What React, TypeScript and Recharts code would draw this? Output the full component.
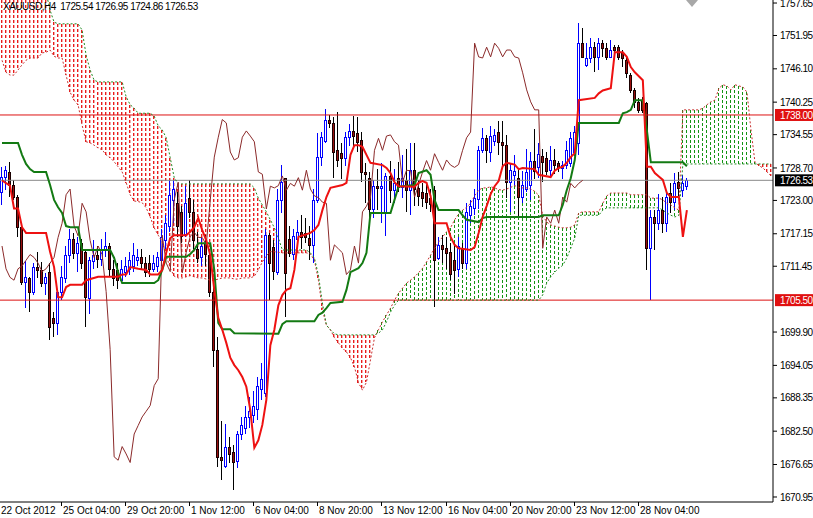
import {
  ComposedChart,
  XAxis,
  YAxis,
  Bar,
  Line,
  ReferenceLine,
} from "recharts";

const FONT = "Tahoma, 'Liberation Sans', Arial, sans-serif";
const TOTAL_BARS = 193; // 172 candles + 21 future slots for the shifted cloud
const PRICE_DOMAIN: [number, number] = [1670.07, 1758.18];

// [open, high, low, close] per H4 bar
const ohlc: [number, number, number, number][] = [
  [1724.5, 1728.9, 1722.2, 1727.1], [1727.1, 1729.0, 1724.8, 1728.3], [1728.0, 1729.7, 1723.6, 1725.7], [1725.7, 1726.6, 1723.1, 1723.6],
  [1723.6, 1724.0, 1716.6, 1718.3], [1718.3, 1718.7, 1708.2, 1708.7], [1708.7, 1712.4, 1704.1, 1709.6], [1709.4, 1709.6, 1703.4, 1706.9],
  [1706.9, 1712.0, 1706.4, 1711.3], [1711.3, 1713.9, 1709.4, 1710.8], [1710.8, 1712.2, 1707.8, 1708.5], [1708.5, 1710.3, 1706.4, 1709.6],
  [1710.4, 1712.0, 1698.5, 1700.8], [1702.4, 1703.5, 1699.0, 1701.5], [1701.5, 1707.3, 1699.4, 1706.9], [1706.9, 1711.5, 1705.5, 1709.5],
  [1709.5, 1715.0, 1708.5, 1713.5], [1713.5, 1718.0, 1712.0, 1716.3], [1716.3, 1717.2, 1712.8, 1713.8], [1713.8, 1716.5, 1710.5, 1715.5],
  [1715.5, 1716.3, 1711.0, 1712.0], [1713.9, 1714.3, 1700.8, 1706.0], [1705.8, 1713.0, 1703.0, 1712.5], [1712.5, 1716.0, 1711.0, 1713.5],
  [1713.5, 1715.0, 1711.2, 1712.8], [1712.8, 1716.3, 1711.5, 1714.5], [1714.5, 1717.5, 1713.0, 1715.0], [1715.0, 1715.5, 1709.5, 1711.0],
  [1711.0, 1712.5, 1708.0, 1709.5], [1710.8, 1712.0, 1707.5, 1709.0], [1709.0, 1712.5, 1708.5, 1711.0], [1710.5, 1713.0, 1709.5, 1711.5],
  [1711.0, 1714.0, 1710.0, 1712.5], [1711.5, 1715.5, 1710.5, 1713.5], [1712.5, 1714.5, 1711.5, 1713.0], [1713.0, 1714.5, 1711.0, 1712.0],
  [1712.0, 1713.0, 1709.5, 1710.5], [1712.0, 1713.5, 1709.5, 1711.0], [1711.0, 1713.5, 1710.5, 1712.0], [1711.5, 1714.0, 1710.5, 1713.0],
  [1712.5, 1718.0, 1711.5, 1716.5], [1716.0, 1720.5, 1714.5, 1719.0], [1718.5, 1726.5, 1717.5, 1724.0], [1723.0, 1726.6, 1719.0, 1725.0],
  [1722.5, 1724.5, 1716.5, 1718.5], [1721.0, 1722.0, 1715.5, 1716.8], [1717.0, 1725.5, 1716.5, 1722.5], [1723.5, 1726.6, 1720.0, 1721.0],
  [1721.0, 1723.0, 1714.5, 1716.0], [1714.5, 1717.5, 1712.0, 1713.0], [1713.0, 1716.5, 1711.5, 1715.0], [1715.5, 1717.0, 1711.5, 1713.5],
  [1713.5, 1714.5, 1706.0, 1707.0], [1707.0, 1708.0, 1693.8, 1696.8], [1696.8, 1699.0, 1676.2, 1678.0], [1678.0, 1684.3, 1674.0, 1677.4],
  [1676.5, 1683.7, 1676.0, 1679.8], [1679.8, 1681.5, 1677.0, 1678.5], [1678.8, 1680.0, 1672.2, 1677.0], [1677.3, 1682.5, 1676.0, 1682.0],
  [1682.0, 1685.0, 1681.0, 1683.5], [1683.0, 1687.0, 1682.0, 1685.0], [1685.0, 1688.5, 1683.0, 1686.0], [1685.5, 1689.5, 1684.0, 1687.0],
  [1686.5, 1692.0, 1684.5, 1690.5], [1690.0, 1694.5, 1688.0, 1691.7], [1689.2, 1718.0, 1688.5, 1716.9], [1716.9, 1717.3, 1705.5, 1712.0],
  [1714.8, 1716.0, 1709.0, 1710.5], [1710.5, 1725.0, 1710.0, 1723.1], [1723.1, 1729.2, 1720.8, 1726.2], [1726.9, 1726.9, 1702.5, 1710.3],
  [1716.3, 1718.5, 1713.0, 1713.9], [1713.5, 1718.0, 1712.5, 1716.7], [1716.2, 1719.5, 1715.0, 1717.4], [1717.4, 1720.5, 1714.5, 1716.5],
  [1717.2, 1720.0, 1715.5, 1716.5], [1716.4, 1718.5, 1712.5, 1715.2], [1715.2, 1725.0, 1712.0, 1723.1], [1723.1, 1734.8, 1722.6, 1730.6],
  [1730.6, 1735.0, 1729.0, 1734.1], [1733.6, 1739.0, 1733.0, 1737.2], [1737.2, 1738.0, 1735.8, 1736.6], [1736.6, 1737.6, 1727.0, 1731.5],
  [1731.8, 1738.6, 1728.9, 1730.1], [1731.3, 1733.0, 1726.8, 1730.5], [1730.5, 1735.0, 1729.0, 1734.1], [1734.1, 1736.5, 1732.5, 1735.2],
  [1735.2, 1737.8, 1732.6, 1734.3], [1734.8, 1737.6, 1731.5, 1733.3], [1733.6, 1735.0, 1726.2, 1728.0], [1728.0, 1729.5, 1722.5, 1727.6],
  [1727.0, 1728.0, 1719.5, 1721.5], [1721.5, 1726.5, 1720.0, 1725.5], [1725.6, 1728.5, 1721.3, 1725.2], [1725.2, 1729.5, 1719.0, 1725.6],
  [1721.0, 1727.8, 1716.8, 1727.3], [1727.3, 1730.0, 1722.5, 1724.8], [1724.8, 1728.5, 1722.5, 1726.0], [1727.0, 1729.8, 1724.5, 1725.5],
  [1725.5, 1731.0, 1723.5, 1727.0], [1726.5, 1732.0, 1721.0, 1724.8], [1724.8, 1733.0, 1720.5, 1728.3], [1728.3, 1733.0, 1722.0, 1725.0],
  [1725.2, 1726.5, 1722.0, 1723.8], [1724.5, 1726.0, 1721.8, 1723.5], [1724.3, 1726.0, 1721.5, 1722.7], [1723.5, 1725.0, 1721.0, 1722.5],
  [1724.8, 1725.5, 1704.3, 1712.5], [1713.0, 1716.5, 1712.5, 1715.2], [1715.2, 1717.0, 1712.0, 1714.5], [1714.6, 1716.5, 1711.0, 1713.8],
  [1713.9, 1715.5, 1709.0, 1710.0], [1712.5, 1715.5, 1706.5, 1710.8], [1711.0, 1716.5, 1709.5, 1715.0], [1714.5, 1715.5, 1711.0, 1712.0],
  [1712.0, 1722.5, 1711.0, 1721.0], [1720.5, 1723.0, 1719.0, 1722.0], [1721.8, 1725.0, 1720.5, 1723.5], [1723.2, 1732.5, 1721.5, 1731.8],
  [1731.8, 1735.8, 1731.3, 1733.9], [1733.9, 1734.5, 1729.5, 1731.8], [1731.5, 1736.0, 1729.8, 1734.3], [1733.5, 1735.5, 1732.5, 1734.5],
  [1735.0, 1737.0, 1731.0, 1733.3], [1733.3, 1737.0, 1728.5, 1732.7], [1732.7, 1734.5, 1723.5, 1726.2], [1726.2, 1729.5, 1721.0, 1728.3],
  [1727.5, 1731.0, 1725.5, 1728.2], [1727.0, 1728.5, 1720.0, 1723.6], [1723.6, 1728.2, 1722.5, 1725.7], [1725.0, 1732.0, 1724.5, 1728.0],
  [1725.7, 1731.5, 1723.0, 1730.0], [1730.0, 1735.5, 1726.8, 1728.3], [1729.0, 1733.0, 1727.0, 1731.2], [1730.8, 1732.0, 1726.3, 1729.7],
  [1730.5, 1731.5, 1727.5, 1728.3], [1728.3, 1732.5, 1727.0, 1730.1], [1730.1, 1732.0, 1727.7, 1729.2], [1729.5, 1730.0, 1728.0, 1728.8],
  [1728.8, 1730.0, 1726.8, 1729.3], [1729.2, 1733.5, 1728.5, 1731.8], [1729.6, 1735.0, 1728.8, 1734.0], [1731.5, 1736.0, 1730.8, 1735.0],
  [1733.0, 1754.1, 1731.0, 1750.6], [1750.6, 1753.3, 1748.0, 1748.2], [1746.8, 1750.6, 1746.4, 1748.0], [1748.0, 1751.5, 1747.1, 1749.9],
  [1749.9, 1750.8, 1745.5, 1748.2], [1748.2, 1751.5, 1745.9, 1750.6], [1750.6, 1751.2, 1748.2, 1749.7], [1749.7, 1750.6, 1747.6, 1748.2],
  [1748.2, 1751.2, 1748.0, 1749.4], [1750.0, 1750.3, 1748.9, 1749.4], [1750.0, 1750.3, 1747.6, 1748.2], [1749.0, 1749.4, 1746.4, 1748.0],
  [1747.6, 1748.0, 1744.5, 1745.4], [1745.0, 1745.4, 1741.8, 1742.4], [1742.4, 1742.7, 1739.2, 1740.3], [1740.3, 1741.0, 1738.4, 1738.9],
  [1740.6, 1741.2, 1738.4, 1738.9], [1740.1, 1740.3, 1710.8, 1714.6], [1714.6, 1721.3, 1705.5, 1720.1], [1720.1, 1721.3, 1714.3, 1719.0],
  [1719.0, 1724.2, 1717.8, 1721.3], [1721.3, 1723.6, 1717.3, 1719.0], [1719.0, 1724.8, 1717.5, 1723.6], [1724.3, 1726.0, 1720.8, 1722.7],
  [1722.7, 1727.8, 1721.3, 1726.0], [1726.2, 1728.0, 1723.6, 1725.2], [1724.8, 1727.5, 1723.6, 1726.0], [1725.54, 1726.95, 1724.86, 1726.53],
];

// Tenkan-sen (red) and Kijun-sen (green) read at their break points: [bar, price]
const tenkanPoints: [number, number][] = [
  [0, 1726.5], [2, 1725.6], [3, 1721.6], [4, 1721.6], [5, 1718.3], [6, 1717.3], [11, 1717.3], [12, 1714.0],
  [13, 1711.3], [14, 1706.0], [15, 1706.0], [16, 1707.8], [17, 1708.2], [20, 1708.2], [21, 1709.0], [24, 1709.6],
  [29, 1709.6], [30, 1710.0], [31, 1710.0], [32, 1711.3], [34, 1711.0], [36, 1710.8], [37, 1710.0], [39, 1710.0],
  [40, 1710.8], [41, 1713.8], [42, 1716.4], [43, 1716.9], [46, 1716.9], [47, 1717.5], [48, 1718.3], [49, 1719.9],
  [50, 1717.8], [51, 1716.0], [52, 1713.4], [53, 1707.3], [54, 1702.4], [55, 1700.3], [56, 1698.0], [57, 1695.4],
  [58, 1694.1], [59, 1693.2], [60, 1692.0], [61, 1690.3], [62, 1686.2], [63, 1679.6], [64, 1680.9], [65, 1683.6],
  [66, 1688.0], [67, 1697.6], [68, 1700.3], [69, 1704.6], [70, 1706.4], [71, 1707.3], [72, 1707.6], [73, 1710.8],
  [74, 1716.6], [77, 1717.3], [78, 1717.8], [79, 1718.7], [80, 1721.3], [81, 1723.6], [82, 1725.2], [85, 1725.7],
  [86, 1726.1], [87, 1731.0], [88, 1732.7], [89, 1732.7], [90, 1732.4], [91, 1731.0], [92, 1729.6], [95, 1729.2],
  [96, 1728.7], [97, 1727.8], [98, 1726.2], [99, 1725.5], [103, 1725.4], [104, 1726.1], [105, 1726.4], [106, 1726.1],
  [107, 1723.8], [108, 1719.0], [111, 1719.0], [112, 1716.6], [113, 1715.2], [114, 1714.6], [117, 1714.3], [118, 1714.8],
  [119, 1717.3], [120, 1720.1], [121, 1722.0], [122, 1724.1], [123, 1725.5], [124, 1726.4], [125, 1729.0], [126, 1729.6],
  [128, 1729.3], [129, 1728.5], [130, 1728.7], [133, 1728.5], [134, 1727.5], [137, 1727.1], [138, 1728.2], [139, 1728.7],
  [140, 1728.9], [141, 1729.6], [142, 1730.6], [143, 1731.3], [144, 1740.6], [148, 1741.0], [149, 1741.8], [150, 1742.3],
  [152, 1742.7], [153, 1749.0], [155, 1749.0], [156, 1748.2], [157, 1746.4], [158, 1745.5], [159, 1744.8], [160, 1744.1],
  [161, 1728.9], [162, 1728.9], [163, 1727.8], [164, 1727.2], [165, 1726.6], [166, 1724.3], [167, 1723.6], [169, 1723.6],
  [170, 1716.6], [171, 1721.3],
];

const kijunPoints: [number, number][] = [
  [0, 1733.1], [4, 1733.1], [5, 1731.0], [6, 1729.4], [7, 1728.5], [8, 1728.0], [11, 1728.0], [12, 1725.7],
  [13, 1723.1], [14, 1721.8], [15, 1720.8], [16, 1718.5], [17, 1718.3], [19, 1718.3], [20, 1714.3], [27, 1714.3],
  [28, 1712.9], [29, 1710.4], [30, 1708.5], [38, 1708.5], [39, 1709.0], [40, 1710.8], [41, 1713.1], [46, 1713.1],
  [47, 1713.6], [48, 1714.3], [49, 1715.5], [52, 1715.5], [53, 1710.8], [54, 1701.5], [55, 1700.4], [57, 1700.4],
  [58, 1699.7], [69, 1699.6], [70, 1701.3], [71, 1701.8], [78, 1701.8], [79, 1702.9], [80, 1703.3], [81, 1704.1],
  [82, 1705.0], [85, 1705.2], [86, 1707.3], [87, 1710.4], [89, 1711.1], [90, 1712.0], [91, 1713.8], [92, 1720.8],
  [97, 1720.8], [98, 1723.1], [99, 1725.4], [103, 1725.7], [104, 1727.8], [106, 1728.3], [107, 1727.5], [108, 1723.1],
  [109, 1721.3], [114, 1721.3], [115, 1720.4], [116, 1719.6], [119, 1719.2], [120, 1719.9], [121, 1720.1], [134, 1720.1],
  [135, 1720.4], [139, 1720.4], [140, 1722.2], [141, 1724.8], [142, 1726.9], [143, 1730.1], [144, 1736.6], [154, 1736.6],
  [155, 1738.3], [156, 1738.5], [157, 1738.9], [158, 1740.6], [160, 1740.6], [161, 1735.4], [162, 1729.7], [170, 1729.7],
  [171, 1729.0],
];

// Senkou Span A (red dotted) per slot, already shifted forward
const spanA: number[] = [
  1747.6, 1745.5, 1745.0, 1745.0, 1745.9, 1746.8, 1747.6, 1748.0, 1748.0, 1748.0,
  1748.9, 1749.0, 1749.4, 1748.3, 1748.0, 1748.0, 1745.0, 1742.0, 1740.6, 1739.8,
  1736.2, 1733.3, 1733.1, 1732.7, 1732.2, 1731.9, 1731.0, 1730.5, 1729.8, 1728.9,
  1728.0, 1726.1, 1724.0, 1722.9, 1722.8, 1722.6, 1721.7, 1720.1, 1718.2, 1716.9,
  1715.7, 1713.4, 1711.1, 1709.7, 1709.4, 1709.4, 1709.6, 1709.8, 1709.6, 1709.4,
  1709.4, 1709.2, 1709.0, 1709.0, 1709.2, 1709.4, 1709.4, 1709.4, 1709.2, 1709.2,
  1709.4, 1709.4, 1709.4, 1709.7, 1710.8, 1712.2, 1713.3, 1714.0, 1714.0, 1713.9,
  1713.8, 1713.8, 1713.8, 1713.8, 1713.8, 1713.8, 1713.8, 1713.6, 1712.5, 1709.0,
  1703.8, 1701.1, 1700.3, 1698.9, 1698.0, 1697.1, 1696.4, 1695.4, 1693.8, 1691.0,
  1689.7, 1691.1, 1695.0, 1698.9, 1700.3, 1701.7, 1702.9, 1704.1, 1705.5, 1706.7,
  1707.6, 1708.5, 1709.0, 1709.6, 1710.3, 1711.1, 1712.2, 1713.4, 1714.6, 1715.7,
  1716.6, 1717.5, 1718.2, 1719.6, 1720.6, 1721.3, 1721.8, 1722.5, 1723.8, 1724.8,
  1725.2, 1725.2, 1725.4, 1725.2, 1724.9, 1724.8, 1725.0, 1725.3, 1725.6, 1725.3,
  1725.2, 1725.2, 1725.0, 1724.6, 1723.9, 1720.4, 1719.2, 1718.7, 1718.5, 1718.3,
  1718.2, 1718.2, 1718.3, 1718.7, 1720.8, 1721.0, 1721.0, 1721.0, 1721.0, 1721.0,
  1722.5, 1723.8, 1724.3, 1724.3, 1724.3, 1724.3, 1724.3, 1724.0, 1724.0, 1724.0,
  1724.0, 1724.0, 1723.4, 1723.4, 1723.4, 1723.1, 1722.5, 1722.2, 1721.7, 1721.3,
  1738.9, 1738.9, 1738.9, 1738.9, 1738.9, 1739.2, 1739.8, 1740.3, 1740.6, 1742.7,
  1743.3, 1743.1, 1742.4, 1743.3, 1743.1, 1742.9, 1742.0, 1735.4, 1729.7, 1729.1,
  1728.7, 1728.0, 1727.3,
];

// Senkou Span B (green dotted); the first values sit above the visible range
const spanB: number[] = [
  1763.0, 1763.0, 1763.0, 1763.0, 1763.0, 1763.0, 1763.0, 1763.0, 1763.0, 1763.0,
  1763.0, 1759.5, 1756.4, 1754.3, 1754.0, 1754.0, 1754.0, 1754.0, 1754.0, 1754.0,
  1752.9, 1748.5, 1745.9, 1744.1, 1743.8, 1743.8, 1743.8, 1743.8, 1743.8, 1743.8,
  1743.8, 1741.2, 1739.8, 1739.2, 1738.3, 1738.3, 1738.3, 1738.3, 1737.8, 1736.1,
  1735.4, 1734.0, 1730.5, 1727.0, 1725.9, 1725.9, 1725.9, 1725.9, 1725.9, 1725.9,
  1725.9, 1725.9, 1725.9, 1725.9, 1725.9, 1725.9, 1725.9, 1725.9, 1725.9, 1725.9,
  1725.9, 1725.9, 1725.9, 1725.2, 1723.4, 1722.2, 1721.0, 1719.6, 1718.2, 1716.4,
  1714.3, 1714.3, 1714.3, 1714.3, 1714.3, 1714.3, 1714.3, 1713.8, 1712.9, 1709.9,
  1705.0, 1701.1, 1700.3, 1699.6, 1699.4, 1699.4, 1699.4, 1699.4, 1699.4, 1699.4,
  1699.4, 1699.4, 1699.4, 1699.4, 1699.7, 1700.3, 1701.7, 1703.4, 1704.6, 1705.5,
  1705.5, 1705.5, 1705.5, 1705.5, 1705.5, 1705.5, 1705.5, 1705.5, 1705.5, 1705.5,
  1705.5, 1705.5, 1705.5, 1705.5, 1705.5, 1705.5, 1705.5, 1705.5, 1705.5, 1705.5,
  1705.5, 1705.5, 1705.5, 1705.5, 1705.5, 1705.5, 1705.5, 1705.5, 1705.5, 1705.5,
  1705.5, 1705.5, 1705.5, 1705.5, 1705.5, 1706.4, 1708.5, 1709.6, 1710.4, 1711.1,
  1711.6, 1712.9, 1714.6, 1716.4, 1720.4, 1720.4, 1720.4, 1720.4, 1720.4, 1720.4,
  1721.3, 1721.7, 1721.7, 1721.7, 1721.7, 1721.7, 1721.7, 1721.7, 1721.7, 1721.7,
  1721.7, 1721.7, 1721.7, 1721.7, 1721.7, 1721.3, 1720.8, 1720.4, 1720.1, 1720.4,
  1729.4, 1729.4, 1729.4, 1729.4, 1729.4, 1729.4, 1729.4, 1729.4, 1729.4, 1729.4,
  1729.4, 1729.4, 1729.4, 1729.4, 1729.4, 1729.4, 1729.4, 1729.4, 1729.4, 1729.4,
  1729.4, 1729.4, 1729.4,
];

const CHIKOU_SHIFT = 26;

const timeTickBars = [0, 15, 31, 47, 63, 79, 95, 111, 127, 143, 159];
const timeTickLabels = [
  "22 Oct 2012", "25 Oct 04:00", "29 Oct 20:00", "1 Nov 12:00", "6 Nov 04:00", "8 Nov 20:00",
  "13 Nov 12:00", "16 Nov 04:00", "20 Nov 20:00", "23 Nov 12:00", "28 Nov 04:00",
];

const priceTicks = [
  1757.65, 1751.95, 1746.1, 1740.25, 1734.55, 1728.7, 1723.0, 1717.15, 1711.45,
  1699.9, 1694.05, 1688.35, 1682.5, 1676.65, 1670.95,
];

const resistance = 1738.0;
const support = 1705.5;
const lastClose = 1726.53;
const title = "XAUUSD,H4  1725.54 1726.95 1724.86 1726.53";

const tenkanMap = new Map(tenkanPoints);
const kijunMap = new Map(kijunPoints);

// each slot carries one vertical range that holds both the candle and the cloud column,
// so the bar scale places the cloud hatch and the candle together
const rows = Array.from({ length: TOTAL_BARS }, (_, i) => {
  const c = ohlc[i];
  const a = spanA[i];
  const b = spanB[i];
  const lo = Math.min(a, b, c ? c[2] : Infinity);
  const hi = Math.min(Math.max(a, b, c ? c[1] : -Infinity), PRICE_DOMAIN[1]);
  return {
    i,
    span: [lo, hi],
    o: c ? c[0] : null,
    h: c ? c[1] : null,
    l: c ? c[2] : null,
    c: c ? c[3] : null,
    chikou: i + CHIKOU_SHIFT < ohlc.length ? ohlc[i + CHIKOU_SHIFT][3] : null,
    tenkan: tenkanMap.has(i) ? tenkanMap.get(i) : null,
    kijun: kijunMap.has(i) ? kijunMap.get(i) : null,
    spanA: a,
    spanB: b,
  };
});

function SlotShape(props: any) {
  const { x, y, width, height, payload } = props;
  if (!payload || !Number.isFinite(y) || !Number.isFinite(height)) return null;
  const [lo, hi] = payload.span;
  const top = Math.min(y, y + height);
  const h = Math.abs(height);
  const toY = (v: number) => top + (hi > lo ? ((hi - Math.min(v, hi)) / (hi - lo)) * h : 0);
  const cx = Math.round(x + width / 2) - 1;

  const a = payload.spanA;
  const b = payload.spanB;
  const cloudTop = Math.round(toY(Math.max(a, b)));
  const cloudBottom = Math.round(toY(Math.min(a, b)));
  const bearishCloud = b > a;

  let candle = null;
  if (payload.o != null) {
    const up = payload.c >= payload.o;
    const yo = toY(payload.o);
    const yc = toY(payload.c);
    const bodyTop = Math.round(Math.min(yo, yc));
    const bodyH = Math.max(1, Math.round(Math.abs(yc - yo)));
    candle = (
      <g>
        <line x1={cx + 0.5} x2={cx + 0.5} y1={toY(payload.h)} y2={toY(payload.l)} stroke={up ? "#0000ff" : "#000000"} strokeWidth={1} />
        <rect x={cx - 0.5} y={bodyTop + 0.5} width={2} height={bodyH} fill={up ? "#ffffff" : "#9a0f0f"} stroke={up ? "#0000ff" : "#1a0000"} strokeWidth={1} />
      </g>
    );
  }
  return (
    <g shapeRendering="crispEdges">
      {cloudBottom - cloudTop > 1 && (
        <g>
          <line x1={cx + 0.5} x2={cx + 0.5} y1={cloudTop} y2={cloudBottom} stroke={bearishCloud ? "#e81c1c" : "#129412"} strokeWidth={1} strokeDasharray="3 2" />
          {bearishCloud && (
            <line x1={cx + 1.5} x2={cx + 1.5} y1={cloudTop} y2={cloudBottom} stroke="#f7a8a8" strokeWidth={1} strokeDasharray="3 2" />
          )}
        </g>
      )}
      {candle}
    </g>
  );
}

function TimeTick(props: any) {
  const { x, y, payload } = props;
  const k = timeTickBars.indexOf(payload.value);
  if (k < 0) return null;
  const tx = Math.round(x) - 1;
  return (
    <g>
      {k > 0 && <line x1={tx + 0.5} x2={tx + 0.5} y1={y} y2={y + 4} stroke="#000" strokeWidth={1} />}
      <text x={k === 0 ? tx : tx + 2} y={y + 12} fontSize={10} fontFamily={FONT} fill="#000" textAnchor="start">
        {timeTickLabels[k]}
      </text>
    </g>
  );
}

function PriceTag(props: any) {
  const { viewBox, text, bg } = props;
  if (!viewBox) return null;
  const right = viewBox.x + viewBox.width;
  const y = viewBox.y;
  return (
    <g>
      <rect x={right + 2} y={y - 6} width={40} height={12} fill={bg} />
      <text x={right + 7} y={y} dy="0.36em" fontSize={10} letterSpacing={-0.5} fontFamily={FONT} fill="#ffffff">
        {text}
      </text>
    </g>
  );
}

export default function App() {
  return (
    <div style={{ position: "absolute", left: 0, top: 0, width: 813, height: 518, background: "#fff" }}>
      <ComposedChart
        width={813}
        height={518}
        data={rows}
        margin={{ top: 0, right: 0, bottom: 0, left: 0 }}
        barCategoryGap={0}
        barGap={0}
      >
        <XAxis
          dataKey="i"
          type="category"
          ticks={timeTickBars}
          interval={0}
          height={16}
          tickSize={0}
          tickMargin={0}
          tickLine={false}
          axisLine={{ stroke: "#000" }}
          tick={<TimeTick />}
        />
        <YAxis
          orientation="right"
          type="number"
          domain={PRICE_DOMAIN}
          allowDataOverflow
          ticks={priceTicks}
          interval={0}
          width={40}
          tickSize={4}
          tickMargin={3}
          tickLine={{ stroke: "#000" }}
          axisLine={{ stroke: "#000" }}
          tick={{ fontSize: 10, fill: "#000", fontFamily: FONT, letterSpacing: -0.5 }}
          tickFormatter={(v: number) => v.toFixed(2)}
        />
        <ReferenceLine y={lastClose} stroke="#8a8a8a" strokeWidth={1} label={<PriceTag text="1726.53" bg="#000000" />} />
        <ReferenceLine y={resistance} stroke="#dd1111" strokeWidth={1} label={<PriceTag text="1738.00" bg="#e01010" />} />
        <ReferenceLine y={support} stroke="#dd1111" strokeWidth={1} label={<PriceTag text="1705.50" bg="#e01010" />} />
        <Bar dataKey="span" shape={<SlotShape />} activeBar={false} isAnimationActive={false} />
        <Line dataKey="spanA" type="linear" stroke="#c8302f" strokeWidth={1} strokeDasharray="2 2" dot={false} activeDot={false} isAnimationActive={false} />
        <Line dataKey="spanB" type="linear" stroke="#238a23" strokeWidth={1} strokeDasharray="2 2" dot={false} activeDot={false} isAnimationActive={false} />
        <Line dataKey="chikou" type="linear" stroke="#8b2a2a" strokeWidth={1} dot={false} activeDot={false} isAnimationActive={false} />
        <Line dataKey="kijun" type="linear" stroke="#137a13" strokeWidth={2} dot={false} activeDot={false} connectNulls isAnimationActive={false} />
        <Line dataKey="tenkan" type="linear" stroke="#ee1111" strokeWidth={2} dot={false} activeDot={false} connectNulls isAnimationActive={false} />
      </ComposedChart>
      <div
        style={{
          position: "absolute", left: 3, top: 1, fontSize: 10, lineHeight: "12px", letterSpacing: "-0.5px",
          whiteSpace: "pre", color: "#000", fontFamily: FONT,
        }}
      >
        {title}
      </div>
      <div
        style={{
          position: "absolute", left: 686, top: 0, width: 0, height: 0,
          borderLeft: "6px solid transparent", borderRight: "6px solid transparent", borderTop: "7px solid #a8a8a8",
        }}
      />
    </div>
  );
}
